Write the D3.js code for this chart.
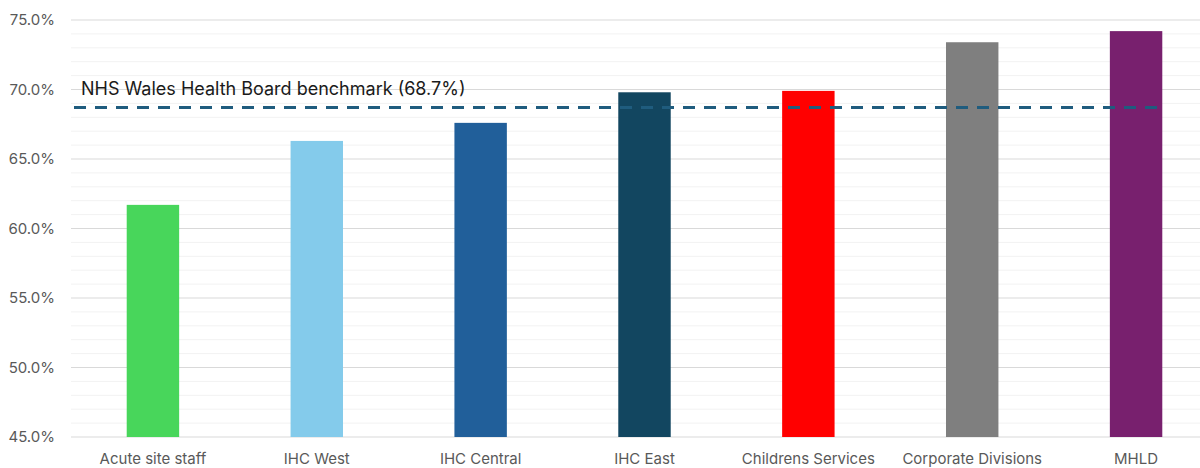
<!DOCTYPE html>
<html>
<head>
<meta charset="utf-8">
<script src="https://cdn.jsdelivr.net/npm/d3@7"></script>
<style>
  html, body { margin: 0; padding: 0; background: #fff; }
  svg { display: block; font-family: Inter, "Noto Sans", sans-serif; }
</style>
</head>
<body>
<svg id="chart" width="1200" height="468"></svg>
<script>
// Staff groups and their percentage scores
const categories = ["Acute site staff", "IHC West", "IHC Central", "IHC East", "Childrens Services", "Corporate Divisions", "MHLD"];
const values = [61.7, 66.3, 67.6, 69.8, 69.9, 73.4, 74.2];
const barColors = ["#48d65b", "#84cbeb", "#215f9a", "#124660", "#ff0000", "#7f7f7f", "#78206e"];

// Benchmark reference
const benchmarkValue = 68.7;
const benchmarkLabel = "NHS Wales Health Board benchmark (68.7%)";

// Y axis ticks
const yMajorTicks = [45, 50, 55, 60, 65, 70, 75];
const yMinorTicks = d3.range(45, 76, 1);

const svg = d3.select("#chart");
const margin = { left: 71, right: -18, top: 20, bottom: 31 };
const W = 1200, H = 468;

const x = d3.scaleBand()
  .domain(categories)
  .range([margin.left, W - margin.right])
  .paddingInner(0.68)
  .paddingOuter(0.34);

const y = d3.scaleLinear()
  .domain([45, 75])
  .range([437, 20]);

// minor gridlines
svg.append("g")
  .selectAll("line")
  .data(yMinorTicks.filter(d => d % 5 !== 0))
  .join("line")
  .attr("x1", margin.left).attr("x2", W)
  .attr("y1", d => y(d)).attr("y2", d => y(d))
  .attr("stroke", "#f2f2f2").attr("stroke-width", 1);

// major gridlines
svg.append("g")
  .selectAll("line")
  .data(yMajorTicks)
  .join("line")
  .attr("x1", margin.left).attr("x2", W)
  .attr("y1", d => y(d)).attr("y2", d => y(d))
  .attr("stroke", "#d9d9d9").attr("stroke-width", 1);

// y axis labels
const yAxis = d3.axisLeft(y)
  .tickValues(yMajorTicks)
  .tickFormat(d => d3.format(".1f")(d) + "%")
  .tickSize(0)
  .tickPadding(16);

svg.append("g")
  .attr("transform", `translate(${margin.left},0)`)
  .call(yAxis)
  .call(g => g.select(".domain").remove())
  .call(g => g.selectAll("text")
    .attr("fill", "#595959")
    .attr("font-size", 15)
    .attr("font-family", "Inter, 'Noto Sans', sans-serif"));

// bars
svg.append("g")
  .selectAll("rect")
  .data(categories)
  .join("rect")
  .attr("x", d => x(d))
  .attr("width", x.bandwidth())
  .attr("y", (d, i) => y(values[i]))
  .attr("height", (d, i) => y(45) - y(values[i]))
  .attr("fill", (d, i) => barColors[i]);

// x axis labels
const xAxis = d3.axisBottom(x).tickSize(0).tickPadding(16);
svg.append("g")
  .attr("transform", `translate(0,${y(45)})`)
  .call(xAxis)
  .call(g => g.select(".domain").remove())
  .call(g => g.selectAll("text")
    .attr("fill", "#595959")
    .attr("font-size", 15)
    .attr("font-family", "Inter, 'Noto Sans', sans-serif"));

// benchmark dashed line
svg.append("line")
  .attr("x1", 74).attr("x2", 1166)
  .attr("y1", y(benchmarkValue)).attr("y2", y(benchmarkValue))
  .attr("stroke", "#1f5c7e")
  .attr("stroke-width", 3)
  .attr("stroke-dasharray", "12 9");

svg.append("text")
  .attr("x", 81)
  .attr("y", 95)
  .attr("fill", "#1a1a1a")
  .attr("font-size", 18)
  .text(benchmarkLabel);
</script>
</body>
</html>
